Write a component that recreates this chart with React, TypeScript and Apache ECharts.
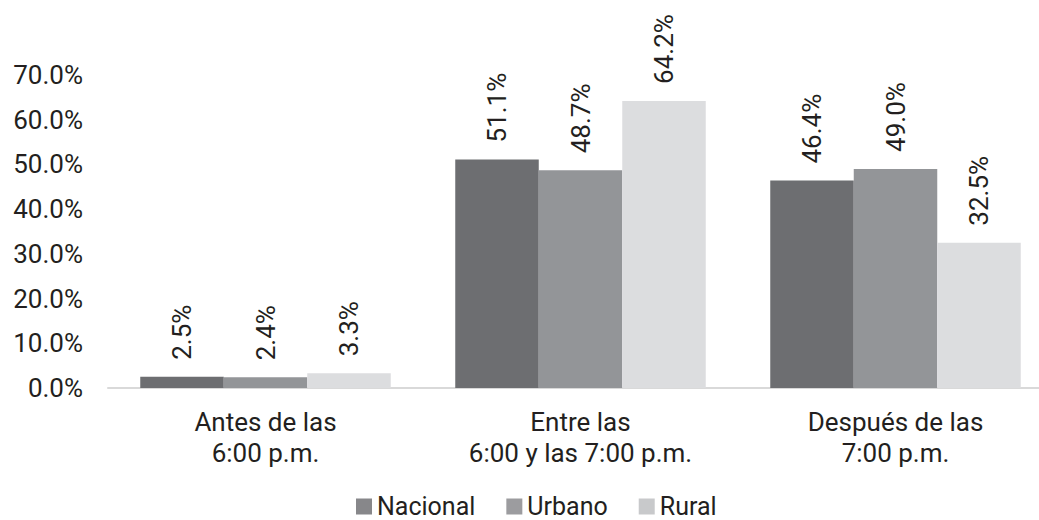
import React, { useEffect, useRef } from "react";
import * as echarts from "echarts";

const categories = ["Antes de las\n6:00 p.m.", "Entre las\n6:00 y las 7:00 p.m.", "Después de las\n7:00 p.m."];
const nacional = [2.5, 51.1, 46.4];
const urbano = [2.4, 48.7, 49.0];
const rural = [3.3, 64.2, 32.5];
const seriesNames = ["Nacional", "Urbano", "Rural"];
const barColors = ["#6d6e71", "#939598", "#dcdddf"];
const legendColors = ["#87878a", "#9c9c9f", "#c8c9cb"];

const FONT = "Roboto";
const TEXT = "#231f20";

export default function App() {
  const ref = useRef<HTMLDivElement>(null);
  useEffect(() => {
    if (!ref.current) return;
    const chart = echarts.init(ref.current, undefined, { renderer: "svg" });
    const values = [nacional, urbano, rural];
    chart.setOption({
      animation: false,
      textStyle: { fontFamily: FONT },
      grid: { left: 108, right: 0, top: 75, bottom: 132 },
      legend: {
        left: 351,
        top: 489,
        itemWidth: 16,
        itemHeight: 16,
        itemGap: 31,
        icon: "rect",
        textStyle: { fontFamily: FONT, fontSize: 25, lineHeight: 22, color: TEXT },
        data: seriesNames.map((n, i) => ({ name: n, itemStyle: { color: legendColors[i] } })),
      },
      xAxis: {
        type: "category",
        data: categories,
        axisLine: { lineStyle: { color: "#d9d9d9", width: 2 } },
        axisTick: { show: false },
        axisLabel: {
          fontFamily: FONT,
          fontSize: 26,
          color: TEXT,
          lineHeight: 31,
          margin: 18,
          interval: 0,
        },
      },
      yAxis: {
        type: "value",
        min: 0,
        max: 70,
        interval: 10,
        splitLine: { show: false },
        axisLine: { show: false },
        axisTick: { show: false },
        axisLabel: {
          fontFamily: FONT,
          fontSize: 26,
          color: TEXT,
          margin: 25,
          formatter: (v: number) => v.toFixed(1) + "%",
        },
      },
      series: seriesNames.map((name, i) => ({
        name,
        type: "bar",
        data: values[i],
        barWidth: 83.5,
        barGap: "0%",
        itemStyle: { color: barColors[i] },
        label: {
          show: true,
          position: "top",
          rotate: 90,
          align: "left",
          verticalAlign: "middle",
          distance: 17,
          fontFamily: FONT,
          fontSize: 26,
          color: TEXT,
          formatter: (p: any) => Number(p.value).toFixed(1) + "%",
        },
      })),
    });
    return () => chart.dispose();
  }, []);
  return (
    <div style={{ position: "absolute", left: 0, top: 0, width: 1039, height: 520, overflow: "hidden" }}>
      <div ref={ref} style={{ width: 1053, height: 520 }} />
    </div>
  );
}
